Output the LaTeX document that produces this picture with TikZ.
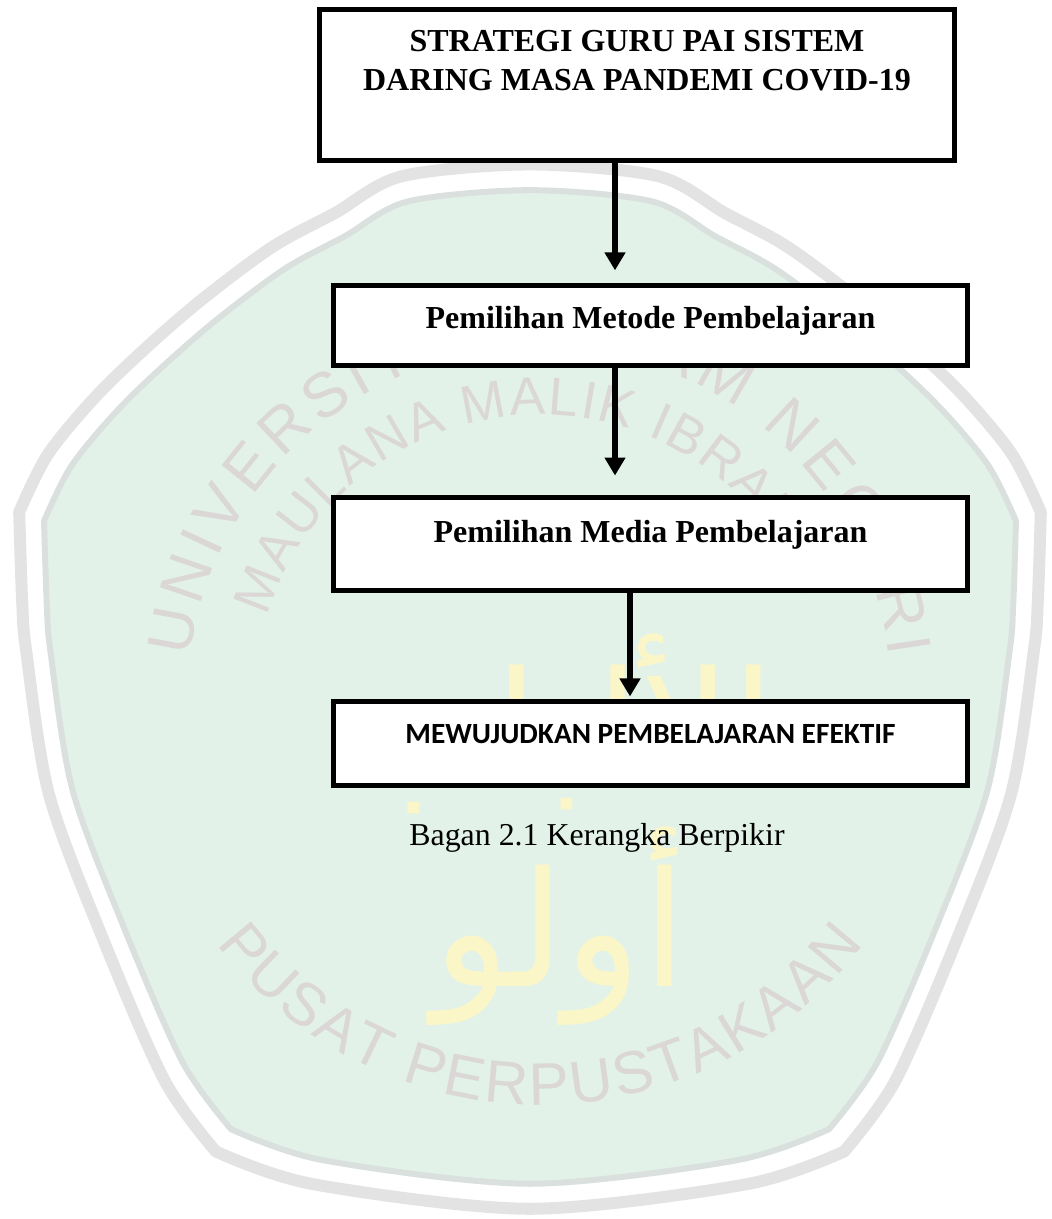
\documentclass[tikz,border=0pt]{standalone}
\usepackage{fontspec}
\setmainfont{Liberation Serif}
\newfontfamily\calibrifont{Carlito}
\newfontfamily\sealfont{Liberation Sans}
\newfontfamily\arabicfont[Script=Arabic]{DejaVu Sans}
\TeXXeTstate=1
\usetikzlibrary{arrows.meta,decorations.text}

\definecolor{sealgreen}{RGB}{226,242,233}
\definecolor{sealgray}{RGB}{227,227,227}
\definecolor{sealedge}{RGB}{218,224,221}
\definecolor{sealtext}{RGB}{219,215,215}
\definecolor{sealgold}{RGB}{251,246,200}

% outline of the library seal, relative to its centre
\newcommand{\crestpath}{plot[smooth] coordinates {(-517,-184) (-487,-244) (-430,-311) (-347,-387) (-263,-451) (-197,-487) (-130,-524) (0,-536) (130,-524) (197,-487) (263,-451) (347,-387) (430,-311) (487,-244) (517,-184)}
 -- plot[smooth] coordinates {(517,-184) (514,-94) (510,-44) (487,101) (433,246) (370,391) (318,463)}
 -- plot[smooth] coordinates {(318,463) (220,496) (0,521) (-220,496) (-318,463)}
 -- plot[smooth] coordinates {(-318,463) (-370,391) (-433,246) (-487,101) (-510,-44) (-514,-94) (-517,-184)} -- cycle}

\tikzset{every picture/.style={line width=0.75pt}}
\tikzset{
  flowbox/.style={draw, line width=3.9pt, fill=white, inner sep=0pt, minimum width=476pt, font=\fontsize{24}{29}\selectfont\bfseries},
  flow/.style={line width=3.9pt, -{Triangle[width=15pt,length=13.5pt]}},
  sealword/.style={decorate, decoration={text along path, text align={fit to path}, text color=sealtext, text={#1}}},
}

\begin{document}
\begin{tikzpicture}[x=0.75pt,y=0.75pt,yscale=-1,xscale=1]
	\useasboundingbox (0,0) rectangle (1051,1219);

	%Shape: Seal band
	\begin{scope}[shift={(530,694)}, scale=0.988]
	\draw [sealgray, line width=9pt, line join=round] \crestpath ;
	\end{scope}
	%Shape: Seal field
	\begin{scope}[shift={(530,694)}, scale=0.94]
	\draw [sealedge, line width=4.5pt, fill=sealgreen, line join=round] \crestpath ;
	\end{scope}
	% Text Node: calligraphy
	\node [sealgold, font=\arabicfont\fontsize{120}{150}\selectfont, align=center] (ululalbab) at (560,830) {\beginR الألباب\endR\\\beginR أولو\endR};
	%Seal lettering
	\begin{scope}[shift={(540,700)}]
	\path [sealword={|\sealfont\fontsize{47}{47}\selectfont|UNIVERSITAS ISLAM NEGERI}] (187:352) arc [start angle=187, end angle=353, radius=352] ;
	\path [sealword={|\sealfont\fontsize{40}{40}\selectfont|MAULANA MALIK IBRAHIM}] (197:285) arc [start angle=197, end angle=339, radius=285] ;
	\path [sealword={|\sealfont\fontsize{45}{45}\selectfont|PUSAT PERPUSTAKAAN}] (143:405) arc [start angle=143, end angle=37, radius=405] ;
	\end{scope}

	%Shape: Rectangle
	\node [flowbox, minimum height=113pt, align=center, text height=45.5pt, text depth=37pt] (strategi) at (637,85) {STRATEGI GURU PAI SISTEM\\DARING MASA PANDEMI COVID-19};
	%Shape: Rectangle
	\node [flowbox, minimum height=60pt, text height=16.5pt, text depth=12.75pt] (metode) at (650.5,325.5) {Pemilihan Metode Pembelajaran};
	%Shape: Rectangle
	\node [flowbox, minimum height=69.6pt, text height=16.5pt, text depth=19.5pt] (media) at (650.5,544) {Pemilihan Media Pembelajaran};
	%Shape: Rectangle
	\node [flowbox, minimum height=62.9pt, text height=15pt, text depth=15.75pt, font=\calibrifont\fontsize{22}{26}\selectfont\bfseries] (efektif) at (650.5,743.5) {MEWUJUDKAN PEMBELAJARAN EFEKTIF};

	%Straight Lines
	\coordinate (axis) at (615,0);
	\coordinate (axisb) at (630,0);
	\draw [flow, shorten >=9.4pt] (strategi.south -| axis) -- (metode.north -| axis) ;
	\draw [flow, shorten >=14.6pt] (metode.south -| axis) -- (media.north -| axis) ;
	\draw [flow, shorten >=1.9pt] (media.south -| axisb) -- (efektif.north -| axisb) ;

	% Text Node
	\node [anchor=base, font=\fontsize{23.9}{28}\selectfont] (caption) at (597,845) {Bagan 2.1 Kerangka Berpikir};

\end{tikzpicture}
\end{document}
